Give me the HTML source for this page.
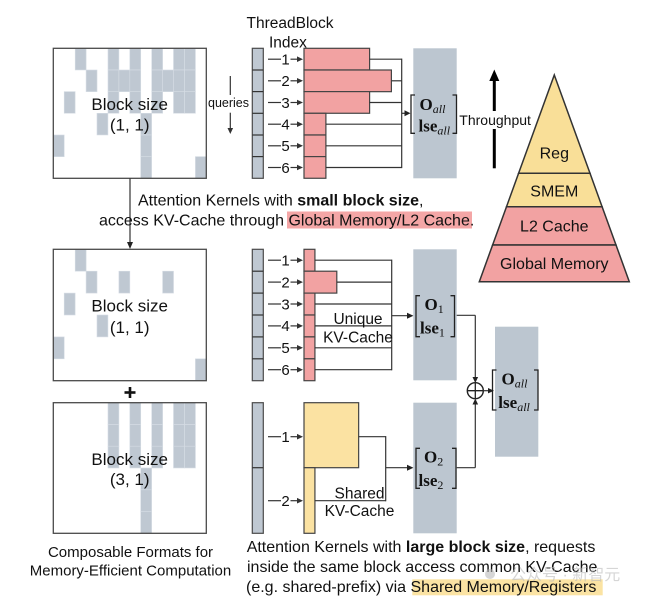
<!DOCTYPE html>
<html><head><meta charset="utf-8">
<style>
html,body{margin:0;padding:0;background:#fff;}
svg{display:block;}
text{font-family:"Liberation Sans",Arial,sans-serif;fill:#111;}
.m{font-family:"Liberation Serif","Times New Roman",serif;font-weight:bold;fill:#111;}
.mi{font-family:"Liberation Serif","Times New Roman",serif;font-style:italic;font-weight:normal;}
.mn{font-family:"Liberation Serif","Times New Roman",serif;font-style:normal;font-weight:normal;}
.c{fill:#bfc8d2;stroke:#d6dde4;stroke-width:0.6;}
.box{fill:none;stroke:#4a4a4a;stroke-width:1.3;}
.ln{stroke:#333;stroke-width:1.2;fill:none;}
.pk{fill:#f2a2a2;stroke:#444;stroke-width:1.2;}
.yl{fill:#fbe2a2;stroke:#444;stroke-width:1.2;}
.q{fill:#bfc8d2;stroke:#4a4a4a;stroke-width:1.2;}
.og{fill:#bcc6d0;}
.br{stroke:#222;stroke-width:1.3;fill:none;}
</style></head>
<body>
<svg width="660" height="605" viewBox="0 0 660 605" xmlns="http://www.w3.org/2000/svg">

<!-- ===== Top matrix ===== -->
<g>
<rect class="c" x="75.2" y="48.3" width="10.93" height="21.67"/>
<rect class="c" x="108.0" y="48.3" width="10.93" height="21.67"/>
<rect class="c" x="129.8" y="48.3" width="10.93" height="21.67"/>
<rect class="c" x="151.7" y="48.3" width="10.93" height="21.67"/>
<rect class="c" x="173.5" y="48.3" width="10.93" height="21.67"/>
<rect class="c" x="184.5" y="48.3" width="10.93" height="21.67"/>

<rect class="c" x="86.1" y="70.0" width="10.93" height="21.67"/>
<rect class="c" x="108.0" y="70.0" width="10.93" height="21.67"/>
<rect class="c" x="118.9" y="70.0" width="10.93" height="21.67"/>
<rect class="c" x="129.8" y="70.0" width="10.93" height="21.67"/>
<rect class="c" x="151.7" y="70.0" width="10.93" height="21.67"/>
<rect class="c" x="162.6" y="70.0" width="10.93" height="21.67"/>
<rect class="c" x="173.5" y="70.0" width="10.93" height="21.67"/>
<rect class="c" x="184.5" y="70.0" width="10.93" height="21.67"/>

<rect class="c" x="64.2" y="91.6" width="10.93" height="21.67"/>
<rect class="c" x="108.0" y="91.6" width="10.93" height="21.67"/>
<rect class="c" x="129.8" y="91.6" width="10.93" height="21.67"/>
<rect class="c" x="151.7" y="91.6" width="10.93" height="21.67"/>
<rect class="c" x="173.5" y="91.6" width="10.93" height="21.67"/>
<rect class="c" x="184.5" y="91.6" width="10.93" height="21.67"/>

<rect class="c" x="97.0" y="113.3" width="10.93" height="21.67"/>
<rect class="c" x="140.7" y="113.3" width="10.93" height="21.67"/>
<rect class="c" x="53.3" y="135.0" width="10.93" height="21.67"/>
<rect class="c" x="140.7" y="135.0" width="10.93" height="21.67"/>
<rect class="c" x="140.7" y="156.6" width="10.93" height="21.67"/>
<rect class="c" x="195.4" y="156.6" width="10.93" height="21.67"/>
<rect class="box" x="53.3" y="48.3" width="153" height="130"/>
<text x="129.7" y="110" font-size="17" text-anchor="middle">Block size</text>
<text x="129.7" y="130.5" font-size="17" text-anchor="middle">(1, 1)</text>
</g>

<!-- queries label -->
<text x="208" y="107" font-size="12.5">queries</text>
<line x1="230.3" y1="76" x2="230.3" y2="95" class="ln"/>
<line x1="230.3" y1="112.7" x2="230.3" y2="129" class="ln"/>
<polygon points="230.3,134 227.5,128 233.1,128" fill="#333"/>

<!-- ThreadBlock Index -->
<text x="246.5" y="28" font-size="15.5">ThreadBlock</text>
<text x="269" y="47.3" font-size="15.5">Index</text>

<!-- Top query column -->
<rect class="q" x="252.3" y="48.3" width="11" height="130"/>
<line class="ln" x1="252.3" y1="70.0" x2="263.3" y2="70.0"/>
<line class="ln" x1="252.3" y1="91.6" x2="263.3" y2="91.6"/>
<line class="ln" x1="252.3" y1="113.3" x2="263.3" y2="113.3"/>
<line class="ln" x1="252.3" y1="135.0" x2="263.3" y2="135.0"/>
<line class="ln" x1="252.3" y1="156.6" x2="263.3" y2="156.6"/>

<!-- Top row labels -->
<g font-size="15">
<g><line class="ln" x1="268" y1="59.2" x2="281" y2="59.2"/><text x="285.5" y="64.5" text-anchor="middle">1</text><line class="ln" x1="290.5" y1="59.2" x2="297.5" y2="59.2"/><polygon points="303,59.2 297,56.4 297,62" fill="#333"/></g>
<g><line class="ln" x1="268" y1="80.8" x2="281" y2="80.8"/><text x="285.5" y="86.1" text-anchor="middle">2</text><line class="ln" x1="290.5" y1="80.8" x2="297.5" y2="80.8"/><polygon points="303,80.8 297,78 297,83.6" fill="#333"/></g>
<g><line class="ln" x1="268" y1="102.5" x2="281" y2="102.5"/><text x="285.5" y="107.8" text-anchor="middle">3</text><line class="ln" x1="290.5" y1="102.5" x2="297.5" y2="102.5"/><polygon points="303,102.5 297,99.7 297,105.3" fill="#333"/></g>
<g><line class="ln" x1="268" y1="124.2" x2="281" y2="124.2"/><text x="285.5" y="129.5" text-anchor="middle">4</text><line class="ln" x1="290.5" y1="124.2" x2="297.5" y2="124.2"/><polygon points="303,124.2 297,121.4 297,127" fill="#333"/></g>
<g><line class="ln" x1="268" y1="145.8" x2="281" y2="145.8"/><text x="285.5" y="151.1" text-anchor="middle">5</text><line class="ln" x1="290.5" y1="145.8" x2="297.5" y2="145.8"/><polygon points="303,145.8 297,143 297,148.6" fill="#333"/></g>
<g><line class="ln" x1="268" y1="167.5" x2="281" y2="167.5"/><text x="285.5" y="172.8" text-anchor="middle">6</text><line class="ln" x1="290.5" y1="167.5" x2="297.5" y2="167.5"/><polygon points="303,167.5 297,164.7 297,170.3" fill="#333"/></g>
</g>

<!-- Top bars -->
<rect class="pk" x="304" y="48.3" width="65.6" height="21.67"/>
<rect class="pk" x="304" y="70.0" width="87.4" height="21.67"/>
<rect class="pk" x="304" y="91.6" width="65.6" height="21.67"/>
<rect class="pk" x="304" y="113.3" width="21.9" height="21.67"/>
<rect class="pk" x="304" y="135.0" width="21.9" height="21.67"/>
<rect class="pk" x="304" y="156.6" width="21.9" height="21.67"/>
<!-- Top connectors -->
<line class="ln" x1="369.6" y1="59.2" x2="401.7" y2="59.2"/>
<line class="ln" x1="391.4" y1="80.8" x2="401.7" y2="80.8"/>
<line class="ln" x1="369.6" y1="102.5" x2="401.7" y2="102.5"/>
<line class="ln" x1="325.9" y1="124.2" x2="401.7" y2="124.2"/>
<line class="ln" x1="325.9" y1="145.8" x2="401.7" y2="145.8"/>
<line class="ln" x1="325.9" y1="167.5" x2="401.7" y2="167.5"/>
<line class="ln" x1="401.7" y1="58.6" x2="401.7" y2="168.1"/>
<line class="ln" x1="401.7" y1="113.3" x2="405" y2="113.3"/>
<polygon points="410.5,113.3 404.5,110.3 404.5,116.3" fill="#222"/>

<!-- Top output -->
<rect class="og" x="413.3" y="48.3" width="43.4" height="130"/>
<path class="br" d="M415,95 H411 V133.3 H415"/>
<path class="br" d="M452.5,95 H456.5 V133.3 H452.5"/>
<text class="m" x="419.5" y="110" font-size="17">O<tspan class="mi" font-size="12" dy="3">all</tspan></text>
<text class="m" x="418.5" y="131.7" font-size="17">lse<tspan class="mi" font-size="12" dy="3">all</tspan></text>

<!-- Throughput -->
<text x="459.3" y="125" font-size="14">Throughput</text>
<line x1="494.3" y1="78" x2="494.3" y2="111" stroke="#000" stroke-width="3"/>
<line x1="494.3" y1="129" x2="494.3" y2="168.3" stroke="#000" stroke-width="3"/>
<polygon points="494.3,69.5 489.3,81 499.3,81" fill="#000"/>

<!-- Pyramid -->
<polygon points="554.3,75 590.0,173.3 518.6,173.3" fill="#f9df98" stroke="#333" stroke-width="1.5"/>
<polygon points="518.6,173.3 590.0,173.3 602.1,206.7 506.5,206.7" fill="#f9df98" stroke="#333" stroke-width="1.5"/>
<polygon points="506.5,206.7 602.1,206.7 616.0,245 492.6,245" fill="#f2a2a2" stroke="#333" stroke-width="1.5"/>
<polygon points="492.6,245 616.0,245 629.3,281.7 479.3,281.7" fill="#f2a2a2" stroke="#333" stroke-width="1.5"/>
<text x="554.3" y="158.5" font-size="16" text-anchor="middle">Reg</text>
<text x="554.3" y="196.7" font-size="16" text-anchor="middle">SMEM</text>
<text x="554.3" y="231.7" font-size="16" text-anchor="middle">L2 Cache</text>
<text x="554.3" y="269" font-size="16" text-anchor="middle">Global Memory</text>

<!-- Down connector -->
<line class="ln" x1="130" y1="178.3" x2="130" y2="243"/>
<polygon points="130,249 127,242 133,242" fill="#222"/>

<!-- Middle caption -->
<rect x="287" y="211.5" width="185" height="17" fill="#f4a6a6"/>
<text x="138" y="205.5" font-size="16">Attention Kernels with <tspan font-weight="bold">small block size</tspan>,</text>
<text x="99" y="225.5" font-size="16">access KV-Cache through Global Memory/L2 Cache.</text>

<!-- ===== Middle matrix ===== -->
<rect class="c" x="75.2" y="249.3" width="10.93" height="21.9"/>
<rect class="c" x="86.1" y="271.2" width="10.93" height="21.9"/>
<rect class="c" x="118.9" y="271.2" width="10.93" height="21.9"/>
<rect class="c" x="162.6" y="271.2" width="10.93" height="21.9"/>
<rect class="c" x="64.2" y="293.1" width="10.93" height="21.9"/>
<rect class="c" x="97.0" y="315.0" width="10.93" height="21.9"/>
<rect class="c" x="53.3" y="336.9" width="10.93" height="21.9"/>
<rect class="c" x="195.4" y="358.8" width="10.93" height="21.9"/>
<rect class="box" x="53.3" y="249.3" width="153" height="131.4"/>
<text x="129.7" y="311.7" font-size="17" text-anchor="middle">Block size</text>
<text x="129.7" y="333" font-size="17" text-anchor="middle">(1, 1)</text>

<!-- plus -->
<rect x="124.5" y="391.2" width="11" height="2.6" fill="#111"/>
<rect x="128.7" y="387" width="2.6" height="11" fill="#111"/>

<!-- Middle query column -->
<rect class="q" x="252.3" y="249.3" width="11" height="131.4"/>
<line class="ln" x1="252.3" y1="271.2" x2="263.3" y2="271.2"/>
<line class="ln" x1="252.3" y1="293.1" x2="263.3" y2="293.1"/>
<line class="ln" x1="252.3" y1="315.0" x2="263.3" y2="315.0"/>
<line class="ln" x1="252.3" y1="336.9" x2="263.3" y2="336.9"/>
<line class="ln" x1="252.3" y1="358.8" x2="263.3" y2="358.8"/>

<g font-size="15">
<g><line class="ln" x1="268" y1="260.2" x2="281" y2="260.2"/><text x="285.5" y="265.5" text-anchor="middle">1</text><line class="ln" x1="290.5" y1="260.2" x2="297.5" y2="260.2"/><polygon points="303,260.2 297,257.4 297,263" fill="#333"/></g>
<g><line class="ln" x1="268" y1="282.1" x2="281" y2="282.1"/><text x="285.5" y="287.4" text-anchor="middle">2</text><line class="ln" x1="290.5" y1="282.1" x2="297.5" y2="282.1"/><polygon points="303,282.1 297,279.3 297,284.9" fill="#333"/></g>
<g><line class="ln" x1="268" y1="304.0" x2="281" y2="304.0"/><text x="285.5" y="309.3" text-anchor="middle">3</text><line class="ln" x1="290.5" y1="304.0" x2="297.5" y2="304.0"/><polygon points="303,304 297,301.2 297,306.8" fill="#333"/></g>
<g><line class="ln" x1="268" y1="325.9" x2="281" y2="325.9"/><text x="285.5" y="331.2" text-anchor="middle">4</text><line class="ln" x1="290.5" y1="325.9" x2="297.5" y2="325.9"/><polygon points="303,325.9 297,323.1 297,328.7" fill="#333"/></g>
<g><line class="ln" x1="268" y1="347.8" x2="281" y2="347.8"/><text x="285.5" y="353.1" text-anchor="middle">5</text><line class="ln" x1="290.5" y1="347.8" x2="297.5" y2="347.8"/><polygon points="303,347.8 297,345 297,350.6" fill="#333"/></g>
<g><line class="ln" x1="268" y1="369.7" x2="281" y2="369.7"/><text x="285.5" y="375" text-anchor="middle">6</text><line class="ln" x1="290.5" y1="369.7" x2="297.5" y2="369.7"/><polygon points="303,369.7 297,366.9 297,372.5" fill="#333"/></g>
</g>

<rect class="pk" x="304" y="249.3" width="10.93" height="21.9"/>
<rect class="pk" x="304" y="271.2" width="32.8" height="21.9"/>
<rect class="pk" x="304" y="293.1" width="10.93" height="21.9"/>
<rect class="pk" x="304" y="315.0" width="10.93" height="21.9"/>
<rect class="pk" x="304" y="336.9" width="10.93" height="21.9"/>
<rect class="pk" x="304" y="358.8" width="10.93" height="21.9"/>
<line class="ln" x1="314.9" y1="260.2" x2="391.7" y2="260.2"/>
<line class="ln" x1="336.8" y1="282.1" x2="391.7" y2="282.1"/>
<line class="ln" x1="314.9" y1="304.0" x2="391.7" y2="304.0"/>
<line class="ln" x1="314.9" y1="325.9" x2="391.7" y2="325.9"/>
<line class="ln" x1="314.9" y1="347.8" x2="391.7" y2="347.8"/>
<line class="ln" x1="314.9" y1="369.7" x2="391.7" y2="369.7"/>
<line class="ln" x1="391.7" y1="259.6" x2="391.7" y2="370.3"/>
<line class="ln" x1="391.7" y1="315.7" x2="408" y2="315.7"/>
<polygon points="413.5,315.7 407,312.7 407,318.7" fill="#222"/>
<text x="358" y="324" font-size="15.5" text-anchor="middle">Unique</text>
<text x="358" y="342.5" font-size="15.5" text-anchor="middle">KV-Cache</text>

<rect class="og" x="413.3" y="249.3" width="43.4" height="131"/>
<path class="br" d="M420,295.7 H416 V336.7 H420"/>
<path class="br" d="M450.5,295.7 H454.5 V336.7 H450.5"/>
<text class="m" x="424.5" y="310" font-size="17">O<tspan class="mn" font-size="12" dy="3" style="font-style:normal">1</tspan></text>
<text class="m" x="420" y="333.3" font-size="17">lse<tspan class="mn" font-size="12" dy="3" style="font-style:normal">1</tspan></text>

<!-- ===== Bottom matrix ===== -->
<rect class="c" x="108.0" y="402.7" width="10.93" height="21.77"/>
<rect class="c" x="129.8" y="402.7" width="10.93" height="21.77"/>
<rect class="c" x="151.7" y="402.7" width="10.93" height="21.77"/>
<rect class="c" x="173.5" y="402.7" width="10.93" height="21.77"/>
<rect class="c" x="184.5" y="402.7" width="10.93" height="21.77"/>
<rect class="c" x="108.0" y="424.5" width="10.93" height="21.77"/>
<rect class="c" x="129.8" y="424.5" width="10.93" height="21.77"/>
<rect class="c" x="151.7" y="424.5" width="10.93" height="21.77"/>
<rect class="c" x="173.5" y="424.5" width="10.93" height="21.77"/>
<rect class="c" x="184.5" y="424.5" width="10.93" height="21.77"/>
<rect class="c" x="108.0" y="446.2" width="10.93" height="21.77"/>
<rect class="c" x="129.8" y="446.2" width="10.93" height="21.77"/>
<rect class="c" x="151.7" y="446.2" width="10.93" height="21.77"/>
<rect class="c" x="173.5" y="446.2" width="10.93" height="21.77"/>
<rect class="c" x="184.5" y="446.2" width="10.93" height="21.77"/>
<rect class="c" x="140.7" y="468.0" width="10.93" height="21.77"/>
<rect class="c" x="140.7" y="489.8" width="10.93" height="21.77"/>
<rect class="c" x="140.7" y="511.5" width="10.93" height="21.77"/>
<rect class="box" x="53.3" y="402.7" width="153" height="130.6"/>
<text x="129.7" y="465" font-size="17" text-anchor="middle">Block size</text>
<text x="129.7" y="485" font-size="17" text-anchor="middle">(3, 1)</text>

<text x="130.5" y="557" font-size="15" text-anchor="middle">Composable Formats for</text>
<text x="130.5" y="575.5" font-size="15" text-anchor="middle">Memory-Efficient Computation</text>

<!-- Bottom query column -->
<rect class="q" x="252.3" y="402.7" width="11" height="130.6"/>
<line class="ln" x1="252.3" y1="467.7" x2="263.3" y2="467.7"/>
<g font-size="15">
<g><line class="ln" x1="268" y1="436.7" x2="281" y2="436.7"/><text x="285.5" y="442" text-anchor="middle">1</text><line class="ln" x1="290.5" y1="436.7" x2="297.5" y2="436.7"/><polygon points="303,436.7 297,433.9 297,439.5" fill="#333"/></g>
<g><line class="ln" x1="268" y1="500.7" x2="281" y2="500.7"/><text x="285.5" y="506" text-anchor="middle">2</text><line class="ln" x1="290.5" y1="500.7" x2="297.5" y2="500.7"/><polygon points="303,500.7 297,497.9 297,503.5" fill="#333"/></g>
</g>
<rect class="yl" x="304" y="402.7" width="54.65" height="65"/>
<rect class="yl" x="304" y="467.7" width="10.93" height="65.6"/>
<line class="ln" x1="358.65" y1="436.7" x2="385.7" y2="436.7"/>
<line class="ln" x1="314.9" y1="500.7" x2="385.7" y2="500.7"/>
<line class="ln" x1="385.7" y1="436.1" x2="385.7" y2="501.3"/>
<line class="ln" x1="385.7" y1="467.7" x2="408" y2="467.7"/>
<polygon points="413.5,467.7 407,464.7 407,470.7" fill="#222"/>
<text x="359.5" y="498.5" font-size="15.5" text-anchor="middle">Shared</text>
<text x="359.5" y="516" font-size="15.5" text-anchor="middle">KV-Cache</text>

<rect class="og" x="413.3" y="402.7" width="43.4" height="130.6"/>
<path class="br" d="M420,448.3 H416 V488.3 H420"/>
<path class="br" d="M452,448.3 H456 V488.3 H452"/>
<text class="m" x="424" y="462.3" font-size="17">O<tspan class="mn" font-size="12" dy="3" style="font-style:normal">2</tspan></text>
<text class="m" x="418.5" y="486" font-size="17">lse<tspan class="mn" font-size="12" dy="3" style="font-style:normal">2</tspan></text>

<!-- Combine -->
<line class="ln" x1="456.7" y1="315.3" x2="475.3" y2="315.3"/>
<line class="ln" x1="475.3" y1="315.3" x2="475.3" y2="378"/>
<polygon points="475.3,383 472.5,377 478.1,377" fill="#222"/>
<line class="ln" x1="456.7" y1="467.7" x2="475.3" y2="467.7"/>
<line class="ln" x1="475.3" y1="467.7" x2="475.3" y2="404"/>
<polygon points="475.3,398.5 472.5,404.5 478.1,404.5" fill="#222"/>
<circle cx="475.3" cy="390.7" r="8" fill="#fff" stroke="#222" stroke-width="1.4"/>
<line x1="467.3" y1="390.7" x2="483.3" y2="390.7" stroke="#222" stroke-width="1.3"/>
<line x1="475.3" y1="382.7" x2="475.3" y2="398.7" stroke="#222" stroke-width="1.3"/>
<line class="ln" x1="483.3" y1="390.7" x2="489" y2="390.7"/>
<polygon points="494,390.7 488,388 488,393.4" fill="#222"/>

<rect class="og" x="495" y="326.7" width="43.3" height="130"/>
<path class="br" d="M496.5,370 H492.5 V410 H496.5"/>
<path class="br" d="M534,370 H538 V410 H534"/>
<text class="m" x="501.5" y="384.3" font-size="17">O<tspan class="mi" font-size="12" dy="3">all</tspan></text>
<text class="m" x="498.3" y="408" font-size="17">lse<tspan class="mi" font-size="12" dy="3">all</tspan></text>

<!-- Bottom caption -->
<rect x="412.3" y="579.3" width="190.4" height="16" fill="#fbe3a3"/>
<text x="246.7" y="552.2" font-size="16">Attention Kernels with <tspan font-weight="bold">large block size</tspan>, requests</text>
<text x="247" y="572.2" font-size="16">inside the same block access common KV-Cache</text>
<text x="246" y="592.2" font-size="16">(e.g. shared-prefix) via Shared Memory/Registers</text>

<!-- watermark -->
<g opacity="0.6">
<circle cx="490" cy="574" r="5" fill="#bbb"/>
<text x="510" y="580" font-size="16" style="font-family:'Liberation Sans','Noto Sans CJK SC',sans-serif;fill:#bbb;">公众号 · 新智元</text>
</g>
</svg>
</body></html>
